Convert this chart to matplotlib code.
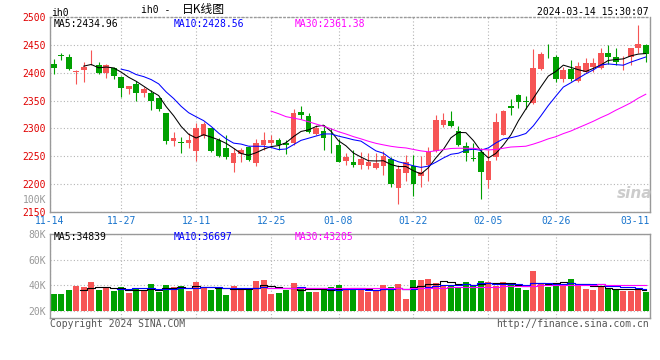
import matplotlib
matplotlib.use("Agg")
import matplotlib.pyplot as plt
import numpy as np
import pandas as pd

# daily OHLC of ih0, 80 sessions from 11-14 to 03-14
opens = [2416, 2431, 2428, 2402, 2404, 2422, 2413, 2400, 2408, 2393,
         2370, 2380, 2364, 2364, 2355, 2327, 2278, 2275, 2273, 2260,
         2286, 2300, 2279, 2264, 2238, 2254, 2266, 2238, 2270, 2273,
         2279, 2273, 2273, 2330, 2322, 2290, 2296, 2274, 2271, 2242,
         2240, 2235, 2232, 2229, 2233, 2245, 2193, 2220, 2233, 2214,
         2235, 2259, 2307, 2314, 2295, 2268, 2246, 2258, 2208, 2248,
         2289, 2340, 2360, 2350, 2345, 2407, 2434, 2428, 2389, 2407,
         2386, 2402, 2410, 2408, 2435, 2429, 2422, 2429, 2444, 2449]
highs = [2425, 2435, 2433, 2405, 2419, 2441, 2420, 2416, 2410, 2395,
         2377, 2386, 2374, 2369, 2356, 2328, 2294, 2285, 2291, 2310,
         2312, 2301, 2283, 2288, 2264, 2265, 2269, 2281, 2294, 2288,
         2282, 2279, 2335, 2340, 2327, 2306, 2306, 2300, 2281, 2256,
         2261, 2257, 2256, 2256, 2259, 2248, 2235, 2252, 2252, 2250,
         2267, 2324, 2327, 2332, 2305, 2276, 2273, 2265, 2261, 2327,
         2333, 2353, 2362, 2358, 2442, 2438, 2451, 2432, 2410, 2423,
         2419, 2426, 2426, 2445, 2450, 2445, 2430, 2445, 2485, 2451]
lows = [2398, 2422, 2405, 2380, 2384, 2413, 2398, 2390, 2389, 2356,
        2362, 2350, 2357, 2333, 2331, 2272, 2269, 2256, 2265, 2241,
        2283, 2257, 2248, 2245, 2222, 2240, 2242, 2233, 2261, 2270,
        2262, 2254, 2270, 2317, 2291, 2288, 2262, 2256, 2240, 2235,
        2231, 2228, 2228, 2228, 2217, 2195, 2164, 2205, 2178, 2195,
        2206, 2257, 2303, 2303, 2268, 2242, 2241, 2174, 2193, 2244,
        2288, 2325, 2337, 2335, 2343, 2404, 2426, 2383, 2383, 2386,
        2383, 2400, 2402, 2407, 2416, 2413, 2405, 2413, 2435, 2420]
closes = [2408, 2430, 2407, 2403, 2411, 2423, 2400, 2414, 2395, 2373,
          2377, 2364, 2370, 2350, 2334, 2278, 2282, 2274, 2280, 2300,
          2308, 2260, 2250, 2248, 2256, 2261, 2244, 2273, 2279, 2280,
          2270, 2270, 2328, 2325, 2294, 2300, 2282, 2273, 2240, 2249,
          2235, 2246, 2240, 2238, 2251, 2201, 2228, 2240, 2200, 2222,
          2258, 2316, 2316, 2304, 2270, 2256, 2245, 2222, 2242, 2311,
          2331, 2336, 2348, 2348, 2408, 2433, 2433, 2389, 2405, 2388,
          2412, 2417, 2417, 2435, 2429, 2420, 2423, 2444, 2451, 2434]
# volume in thousands of lots
volumes = [33.1, 33.1, 36.3, 39.4, 38.9, 42.5, 36.3, 37.6, 35.5, 38.6,
           34.1, 36.8, 36.3, 41.0, 34.9, 40.2, 38.6, 39.4, 35.5, 42.5,
           38.6, 36.3, 37.6, 32.3, 39.4, 37.8, 37.8, 43.3, 44.1, 33.1,
           34.1, 36.3, 41.8, 36.8, 34.7, 34.7, 36.3, 38.4, 40.2, 36.3,
           36.3, 36.3, 34.9, 36.3, 40.2, 38.6, 41.0, 29.2, 44.1, 44.1,
           44.9, 42.0, 40.2, 39.7, 38.6, 42.5, 40.2, 43.3, 42.5, 39.4,
           42.5, 40.2, 38.1, 36.3, 51.4, 41.8, 38.6, 41.8, 40.2, 44.9,
           39.4, 37.0, 36.3, 38.6, 37.6, 36.8, 35.7, 35.7, 37.8, 34.7]

date_pos = [-0.5, 9, 19, 29, 38, 48, 58, 67, 79.5]
date_labels = ["11-14", "11-27", "12-11", "12-25", "01-08", "01-22",
               "02-05", "02-26", "03-11"]
price_ticks = [2150, 2200, 2250, 2300, 2350, 2400, 2450, 2500]
vol_ticks = [20, 40, 60, 80]
vol_labels = ["20K", "40K", "60K", "80K"]

RED = "#f65555"
GREEN = "#00a000"
MONO = "DejaVu Sans Mono"
W, H = 660, 360

o = np.array(opens, float)
c = np.array(closes, float)
x = np.arange(len(o))
colors = [RED if cc >= oo else GREEN for oo, cc in zip(o, c)]


def box(l, t, r, b):
    return [l / W, 1 - b / H, (r - l) / W, (b - t) / H]


def ftext(px, py, s, **kw):
    kw.setdefault("family", MONO)
    kw.setdefault("fontsize", 7)
    kw.setdefault("va", "center")
    fig.text(px / W, 1 - py / H, s, **kw)


fig = plt.figure(figsize=(6.6, 3.6), dpi=100)
ax = fig.add_axes(box(50, 17, 649.5, 212))
axv = fig.add_axes(box(50, 234.3, 649.5, 317.7))

grid_kw = dict(color="#b4b4b4", linestyle=(0, (1, 2)), linewidth=0.8)

# candles
ax.vlines(x, lows, highs, colors=colors, linewidth=0.8, zorder=2)
ax.bar(x, np.maximum(np.abs(c - o), 1.2), bottom=np.minimum(o, c),
       width=0.76, color=colors, linewidth=0, zorder=3)

s = pd.Series(c)
ax.plot(x, s.rolling(5).mean(), color="black", lw=0.75, zorder=4)
ax.plot(x, s.rolling(10).mean(), color="#0000ff", lw=0.75, zorder=4)
ax.plot(x, s.rolling(30).mean(), color="#ff00ff", lw=0.75, zorder=4)

ax.set_xlim(-0.5, 79.5)
ax.set_ylim(2150, 2500)
ax.set_yticks(price_ticks)
ax.set_yticklabels([str(t) for t in price_ticks], family=MONO,
                   fontsize=7, color="#e00000")
ax.set_xticks(date_pos)
ax.set_xticklabels(date_labels, family=MONO, fontsize=7, color="#1874cd")
ax.get_xticklabels()[-1].set_horizontalalignment("right")
ax.tick_params(length=0, pad=3)
ax.grid(True, **grid_kw)
ax.set_axisbelow(True)
for sp in ax.spines.values():
    sp.set_color("#999999")
    sp.set_linewidth(1)
ax.spines["top"].set_linestyle((0, (1, 2)))

# volume
v = pd.Series(volumes)
axv.bar(x, np.array(volumes) - 20, bottom=20, width=0.8, color=colors,
        linewidth=0, zorder=2)
axv.plot(x, v.rolling(5).mean(), color="black", lw=0.8, drawstyle="steps-mid", zorder=3)
axv.plot(x, v.rolling(10).mean(), color="#0000ff", lw=0.8, drawstyle="steps-mid", zorder=3)
axv.plot(x, v.rolling(30).mean(), color="#ff00ff", lw=0.8, drawstyle="steps-mid", zorder=3)
axv.set_xlim(-0.5, 79.5)
axv.set_ylim(14.5, 80)
axv.set_yticks(vol_ticks)
axv.set_yticklabels(vol_labels, family=MONO, fontsize=7, color="#999999")
axv.set_xticks(date_pos)
axv.set_xticklabels([])
axv.tick_params(length=0, pad=3)
axv.grid(True, **grid_kw)
axv.set_axisbelow(True)
for sp in axv.spines.values():
    sp.set_color("#999999")
    sp.set_linewidth(1)

# texts
ftext(51, 12.5, "ih0")
ftext(141, 10, "ih0 -")
ftext(182, 10, "日K线图", family=["Noto Sans CJK SC", "DejaVu Sans"], fontsize=8.5)
ftext(649, 12, "2024-03-14 15:30:07", ha="right")
ftext(54, 24, "MA5:2434.96", color="black")
ftext(174, 24, "MA10:2428.56", color="#0000ff")
ftext(295, 24, "MA30:2361.38", color="#ff00ff")
ftext(46, 200, "100K", ha="right", color="#999999")
ftext(54, 237.5, "MA5:34839", color="black")
ftext(174, 237.5, "MA10:36697", color="#0000ff")
ftext(295, 237.5, "MA30:43205", color="#ff00ff")
ftext(50, 324, "Copyright 2024 SINA.COM", color="#555555")
ftext(649, 324, "http://finance.sina.com.cn", ha="right", color="#555555")
ftext(635, 193, "sina", family="DejaVu Sans", fontsize=11, style="italic",
      weight="bold", color="#cccccc", ha="center")

fig.savefig("out.png", dpi=100)
